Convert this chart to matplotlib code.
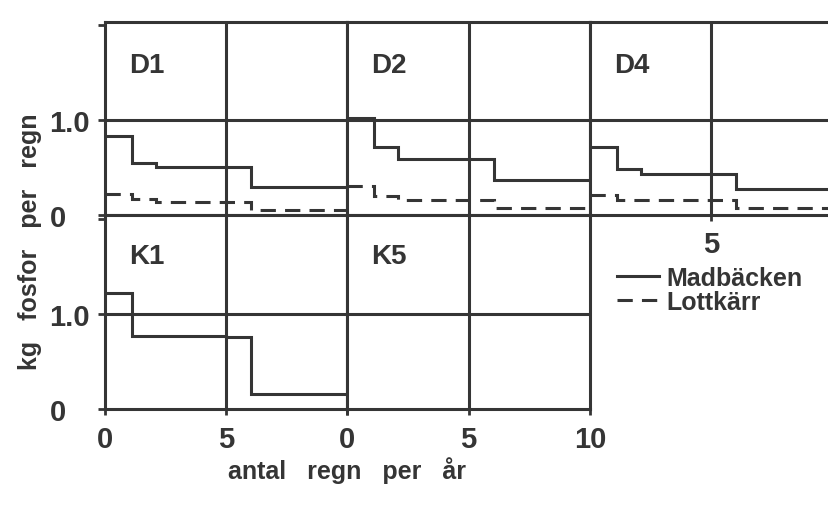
import matplotlib
matplotlib.use("Agg")
import matplotlib.pyplot as plt

plt.rcParams['font.family'] = ['Liberation Sans', 'DejaVu Sans']
plt.rcParams['font.weight'] = 'bold'

# step edges (antal regn per år) and values (kg fosfor per regn)
edges = [0, 1.1, 2.1, 6.05, 10]
d1_mad = [0.83, 0.55, 0.51, 0.29]
d1_lott = [0.22, 0.17, 0.14, 0.05]
d2_mad = [1.02, 0.71, 0.59, 0.37]
d2_lott = [0.30, 0.20, 0.16, 0.07]
d4_mad = [0.71, 0.48, 0.43, 0.27]
d4_lott = [0.21, 0.16, 0.16, 0.07]
k1_edges = [0, 1.1, 5.0, 6.05, 10]
k1_mad = [1.22, 0.77, 0.76, 0.16]

C = '#353535'
LW = 2.2
W, H = 829, 506

fig = plt.figure(figsize=(8.29, 5.06), dpi=100)


def px_axes(x0, y0, x1, y1):
    return fig.add_axes([x0 / W, 1 - y1 / H, (x1 - x0) / W, (y1 - y0) / H])


def style(ax, ymax):
    ax.set_xlim(0, 10)
    ax.set_ylim(0, ymax)
    for s in ax.spines.values():
        s.set_color(C)
        s.set_linewidth(LW)
    ax.axvline(5, color=C, lw=LW)
    ax.axhline(1.0, color=C, lw=LW)
    ax.tick_params(bottom=False, left=False, labelbottom=False, labelleft=False)


d1 = px_axes(105, 23, 347, 216)
d2 = px_axes(347, 23, 590, 216)
d4 = px_axes(590, 23, 832, 216)
k1 = px_axes(105, 216, 347, 410)
k5 = px_axes(347, 216, 590, 410)

for ax in (d1, d2, d4):
    style(ax, 2.03)
for ax in (k1, k5):
    style(ax, 2.04)

panels = [(d1, 'D1', d1_mad, d1_lott), (d2, 'D2', d2_mad, d2_lott),
          (d4, 'D4', d4_mad, d4_lott)]
for ax, name, mad, lott in panels:
    ax.stairs(mad, edges, color=C, lw=LW, baseline=None, label='Madbäcken')
    ax.stairs(lott, edges, color=C, lw=LW, baseline=None,
              linestyle=(0, (5, 3)), label='Lottkärr')
    ax.text(1.0, 1.5, name, fontsize=20, color=C, fontweight='bold')

k1.stairs(k1_mad, k1_edges, color=C, lw=LW, baseline=None)
k1.text(1.0, 1.53, 'K1', fontsize=20, color=C, fontweight='bold')
k5.text(1.0, 1.53, 'K5', fontsize=20, color=C, fontweight='bold')

# y axes
for ax in (d1, k1):
    ax.set_yticks([0, 1, 2])
    ax.set_yticklabels(['0', '1.0', ''])
    ax.tick_params(axis='y', left=True, labelleft=True, direction='out', length=5,
                   width=2, color=C, labelsize=21, labelcolor=C, pad=35)
    for t in ax.get_yticklabels():
        t.set_horizontalalignment('left')

# x axes
for ax, labels in ((k1, ['0', '5', '']), (k5, ['0', '5', '10'])):
    ax.set_xticks([0, 5, 10])
    ax.set_xticklabels(labels)
    ax.tick_params(axis='x', bottom=True, labelbottom=True, direction='inout',
                   length=9, width=2, color=C, labelsize=21, labelcolor=C, pad=7)
d4.set_xticks([5])
d4.set_xticklabels(['5'])
d4.tick_params(axis='x', bottom=True, labelbottom=True, direction='out', length=4,
               width=2, color=C, labelsize=21, labelcolor=C, pad=7)

fig.text(347 / W, 1 - 471 / H, 'antal   regn   per   år', ha='center', va='center',
         fontsize=18, color=C, fontweight='bold')
fig.text(30 / W, 1 - 242 / H, 'kg   fosfor   per   regn', ha='center', va='center',
         rotation=90, fontsize=18, color=C, fontweight='bold')

handles, labels = d1.get_legend_handles_labels()
fig.legend(handles, labels, loc='upper left', bbox_to_anchor=(604 / W, 1 - 254 / H),
           frameon=False, fontsize=18, handlelength=1.7, handletextpad=0.3,
           labelspacing=0.0, borderpad=0, labelcolor=C)

fig.savefig('out.png', dpi=100)
